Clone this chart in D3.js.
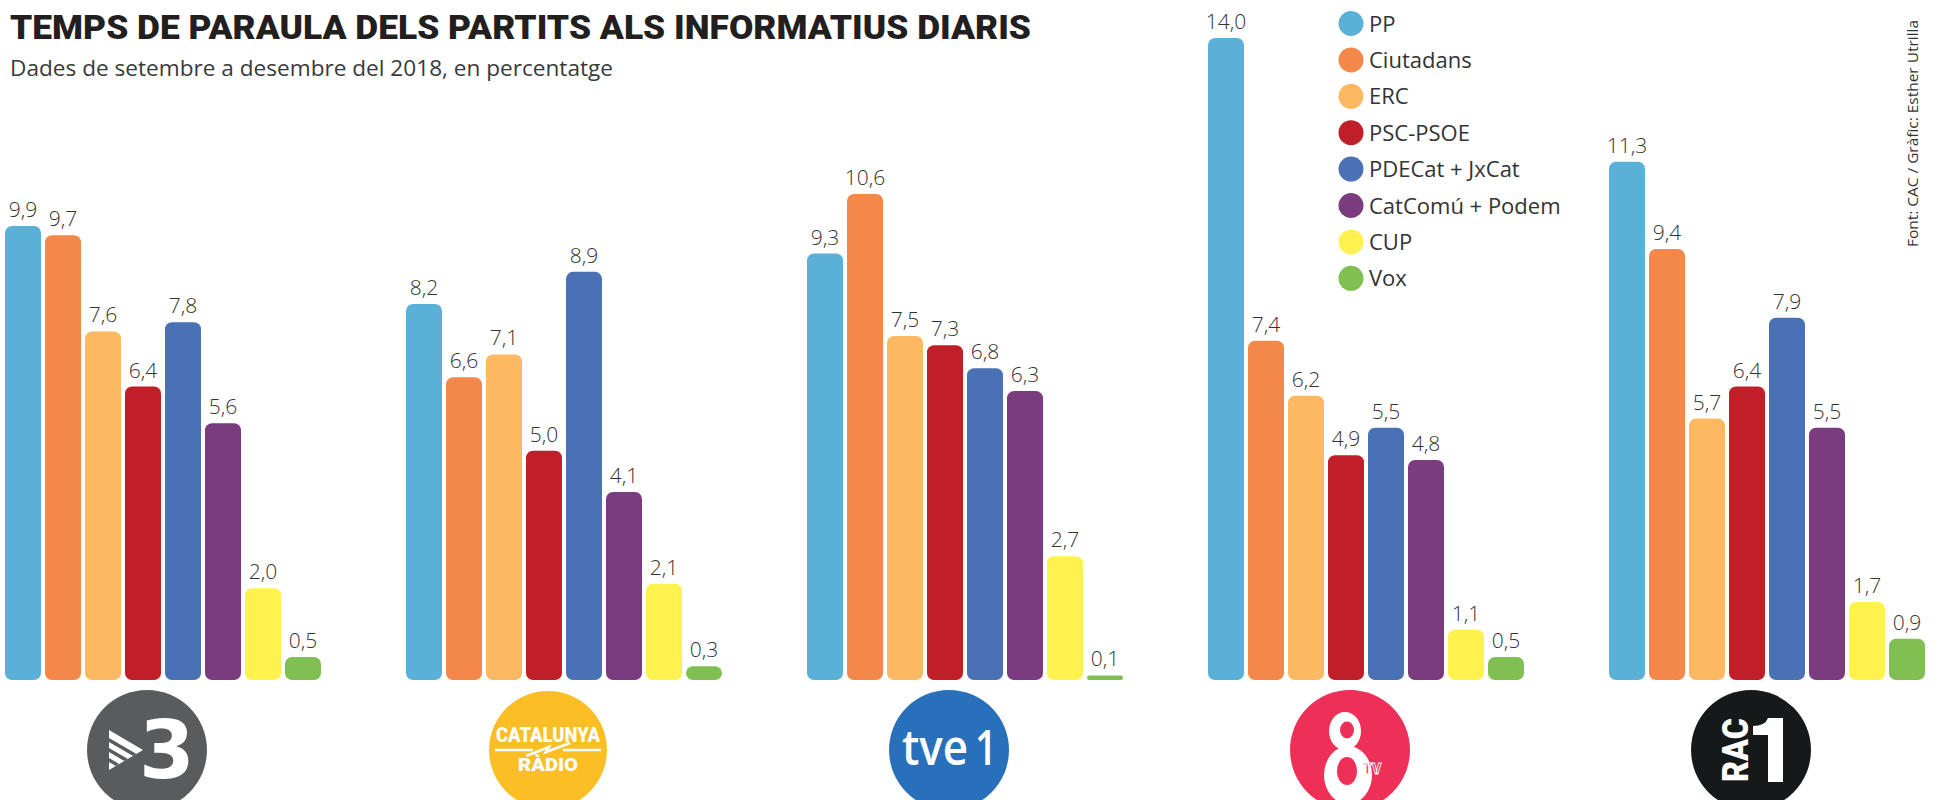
<!DOCTYPE html>
<html>
<head>
<meta charset="utf-8">
<script src="https://cdn.jsdelivr.net/npm/d3@7"></script>
<style>
  html, body { margin: 0; padding: 0; background: #fff; }
  svg { display: block; }
</style>
</head>
<body>
<svg id="chart" width="1941" height="800"></svg>
<script>
// ---------- DATA ----------
const channels = ["TV3", "Catalunya Ràdio", "TVE1", "8TV", "RAC1"];
const parties = ["PP", "Ciutadans", "ERC", "PSC-PSOE", "PDECat + JxCat", "CatComú + Podem", "CUP", "Vox"];
const partyColors = ["#5BB0D8", "#F4874A", "#FDB962", "#C01F27", "#4B71B5", "#7A3C7E", "#FFF24F", "#80BF52"];
const valuesTV3 = [9.9, 9.7, 7.6, 6.4, 7.8, 5.6, 2.0, 0.5];
const valuesCatRadio = [8.2, 6.6, 7.1, 5.0, 8.9, 4.1, 2.1, 0.3];
const valuesTVE1 = [9.3, 10.6, 7.5, 7.3, 6.8, 6.3, 2.7, 0.1];
const values8TV = [14.0, 7.4, 6.2, 4.9, 5.5, 4.8, 1.1, 0.5];
const valuesRAC1 = [11.3, 9.4, 5.7, 6.4, 7.9, 5.5, 1.7, 0.9];
const channelValues = [valuesTV3, valuesCatRadio, valuesTVE1, values8TV, valuesRAC1];
const titleText = "TEMPS DE PARAULA DELS PARTITS ALS INFORMATIUS DIARIS";
const subtitleText = "Dades de setembre a desembre del 2018, en percentatge";
const sourceText = "Font: CAC / Gràfic: Esther Utrilla";

// ---------- SETUP ----------
const svg = d3.select("#chart");
const fmt = v => d3.format(".1f")(v).replace(".", ",");

const x0 = d3.scaleBand().domain(channels).range([5, 1925]).paddingInner(0.212).paddingOuter(0);
const x1 = d3.scaleBand().domain(parties).range([0, x0.bandwidth()]).paddingInner(0.1).paddingOuter(0);
const y = d3.scaleLinear().domain([0, 14]).range([680, 38]);
const color = d3.scaleOrdinal().domain(parties).range(partyColors);

// Title & subtitle
svg.append("text")
  .attr("x", 10).attr("y", 39)
  .attr("font-family", "Roboto, 'DejaVu Sans', sans-serif")
  .attr("font-weight", 900)
  .attr("font-size", 33)
  .attr("fill", "#231F20")
  .attr("textLength", 1021)
  .attr("lengthAdjust", "spacingAndGlyphs")
  .text(titleText);

svg.append("text")
  .attr("x", 10).attr("y", 76)
  .attr("font-family", "'Open Sans', sans-serif")
  .attr("font-size", 22)
  .attr("fill", "#3a3a3a")
  .attr("textLength", 603)
  .attr("lengthAdjust", "spacingAndGlyphs")
  .text(subtitleText);

// Source
svg.append("text")
  .attr("transform", "translate(1918,247) rotate(-90)")
  .attr("font-family", "'Open Sans', sans-serif")
  .attr("font-size", 15)
  .attr("fill", "#333")
  .attr("textLength", 227)
  .attr("lengthAdjust", "spacingAndGlyphs")
  .text(sourceText);

// Bars
const groups = svg.selectAll("g.group")
  .data(channels.map((c, i) => ({ channel: c, values: channelValues[i] })))
  .join("g")
  .attr("class", "group")
  .attr("transform", d => `translate(${x0(d.channel)},0)`);

groups.selectAll("rect")
  .data(d => d.values.map((v, i) => ({ party: parties[i], value: v })))
  .join("rect")
  .attr("x", d => x1(d.party))
  .attr("y", d => y(d.value))
  .attr("width", x1.bandwidth())
  .attr("height", d => y(0) - y(d.value))
  .attr("rx", d => Math.min(7, (y(0) - y(d.value)) / 2))
  .attr("ry", d => Math.min(7, (y(0) - y(d.value)) / 2))
  .attr("fill", d => color(d.party));

groups.selectAll("text.val")
  .data(d => d.values.map((v, i) => ({ party: parties[i], value: v })))
  .join("text")
  .attr("class", "val")
  .attr("x", d => x1(d.party) + x1.bandwidth() / 2)
  .attr("y", d => y(d.value) - 9)
  .attr("text-anchor", "middle")
  .attr("font-family", "'Open Sans', sans-serif")
  .attr("font-weight", 300)
  .attr("font-size", 21)
  .attr("fill", "#333")
  .text(d => fmt(d.value));

// Legend
const legend = svg.append("g").attr("class", "legend");
const legItems = legend.selectAll("g")
  .data(parties)
  .join("g")
  .attr("transform", (d, i) => `translate(1351,${23.5 + i * 36.4})`);
legItems.append("circle").attr("r", 12.5).attr("fill", d => color(d));
legItems.append("text")
  .attr("x", 18).attr("y", 8)
  .attr("font-family", "'Open Sans', sans-serif")
  .attr("font-size", 22)
  .attr("fill", "#333")
  .text(d => d);

// Logos
const logoCY = 750, logoR = 60;
function logoCX(ch) { return x0(ch) + 142; }

// TV3
(function () {
  const cx = logoCX("TV3");
  const g = svg.append("g");
  g.append("circle").attr("cx", cx).attr("cy", logoCY).attr("r", logoR).attr("fill", "#5A5B5D");
  const clipId = "tv3clip";
  g.append("clipPath").attr("id", clipId)
    .append("path").attr("d", `M${cx - 38},${logoCY - 20} L${cx - 4},${logoCY} L${cx - 38},${logoCY + 20} Z`);
  const sg = g.append("g").attr("clip-path", `url(#${clipId})`);
  sg.append("rect").attr("x", cx - 40).attr("y", logoCY - 22).attr("width", 40).attr("height", 44).attr("fill", "#fff");
  [8, 18, 28].forEach(o => {
    sg.append("line")
      .attr("x1", cx - 45).attr("y1", logoCY - 22 + o)
      .attr("x2", cx + 5).attr("y2", logoCY - 22 + o + 29)
      .attr("stroke", "#5A5B5D").attr("stroke-width", 3.5);
  });
  g.append("text")
    .attr("x", cx - 8).attr("y", logoCY + 28)
    .attr("font-family", "'DejaVu Sans', sans-serif")
    .attr("font-weight", "bold")
    .attr("font-size", 80)
    .attr("fill", "#fff")
    .text("3");
})();

// Catalunya Ràdio
(function () {
  const cx = logoCX("Catalunya Ràdio");
  const g = svg.append("g");
  g.append("circle").attr("cx", cx).attr("cy", logoCY).attr("r", 59).attr("fill", "#FBBE25");
  g.append("text").attr("x", cx).attr("y", logoCY - 8)
    .attr("text-anchor", "middle")
    .attr("font-family", "Roboto, 'DejaVu Sans', sans-serif")
    .attr("font-weight", 900).attr("font-size", 20).attr("fill", "#fff")
    .attr("textLength", 104).attr("lengthAdjust", "spacingAndGlyphs")
    .text("CATALUNYA");
  g.append("line").attr("x1", cx - 53).attr("x2", cx - 15).attr("y1", logoCY).attr("y2", logoCY)
    .attr("stroke", "#fff").attr("stroke-width", 2.5);
  g.append("line").attr("x1", cx + 15).attr("x2", cx + 53).attr("y1", logoCY).attr("y2", logoCY)
    .attr("stroke", "#fff").attr("stroke-width", 2.5);
  g.append("path")
    .attr("d", `M${cx - 22},${logoCY + 6} L${cx + 1},${logoCY - 3} L${cx - 2},${logoCY + 2} L${cx + 22},${logoCY - 7}`)
    .attr("fill", "none").attr("stroke", "#fff").attr("stroke-width", 2.5);
  g.append("text").attr("x", cx).attr("y", logoCY + 21)
    .attr("text-anchor", "middle")
    .attr("font-family", "Roboto, 'DejaVu Sans', sans-serif")
    .attr("font-weight", 900).attr("font-size", 18).attr("fill", "#fff")
    .attr("textLength", 60).attr("lengthAdjust", "spacingAndGlyphs")
    .text("RÀDIO");
})();

// TVE1
(function () {
  const cx = logoCX("TVE1");
  const g = svg.append("g");
  g.append("circle").attr("cx", cx).attr("cy", logoCY).attr("r", logoR).attr("fill", "#2870B9");
  g.append("text").attr("x", cx - 47).attr("y", logoCY + 15)
    .attr("font-family", "'Open Sans', sans-serif")
    .attr("font-weight", 600).attr("font-size", 48).attr("fill", "#fff")
    .attr("textLength", 66).attr("lengthAdjust", "spacingAndGlyphs")
    .text("tve");
  g.append("text").attr("x", cx + 26).attr("y", logoCY + 15)
    .attr("font-family", "'Open Sans', sans-serif")
    .attr("font-weight", 600).attr("font-size", 48).attr("fill", "#fff")
    .attr("textLength", 22).attr("lengthAdjust", "spacingAndGlyphs")
    .text("1");
})();

// 8TV
(function () {
  const cx = logoCX("8TV");
  const pink = "#EE3059";
  const g = svg.append("g");
  g.append("circle").attr("cx", cx).attr("cy", logoCY).attr("r", logoR).attr("fill", pink);
  g.append("ellipse").attr("cx", cx - 5).attr("cy", logoCY - 19).attr("rx", 16).attr("ry", 19).attr("fill", "#fff");
  g.append("ellipse").attr("cx", cx - 2).attr("cy", logoCY + 25).attr("rx", 24).attr("ry", 29).attr("fill", "#fff");
  g.append("ellipse").attr("cx", cx - 3).attr("cy", logoCY - 20).attr("rx", 7).attr("ry", 8.5).attr("fill", pink);
  g.append("ellipse").attr("cx", cx - 3).attr("cy", logoCY + 21).attr("rx", 10).attr("ry", 14).attr("fill", pink);
  g.append("text").attr("x", cx + 13).attr("y", logoCY + 24)
    .attr("font-family", "Roboto, 'DejaVu Sans', sans-serif")
    .attr("font-weight", 900).attr("font-size", 14).attr("fill", pink)
    .attr("stroke", "#fff").attr("stroke-width", 0.8)
    .text("TV");
})();

// RAC1
(function () {
  const cx = logoCX("RAC1");
  const g = svg.append("g");
  g.append("circle").attr("cx", cx).attr("cy", logoCY).attr("r", logoR).attr("fill", "#151919");
  g.append("text")
    .attr("transform", `translate(${cx - 3},${logoCY + 32}) rotate(-90)`)
    .attr("font-family", "Roboto, 'DejaVu Sans', sans-serif")
    .attr("font-weight", 900).attr("font-size", 36).attr("fill", "#fff")
    .attr("textLength", 64).attr("lengthAdjust", "spacingAndGlyphs")
    .text("RAC");
  g.append("path")
    .attr("d", `M${cx + 17},${logoCY - 32} L${cx + 32},${logoCY - 32} L${cx + 32},${logoCY + 32} L${cx + 17},${logoCY + 32} L${cx + 17},${logoCY - 15} L${cx + 2},${logoCY - 15} L${cx + 2},${logoCY - 24} Q${cx + 14},${logoCY - 24} ${cx + 17},${logoCY - 32} Z`)
    .attr("fill", "#fff");
})();
</script>
</body>
</html>
